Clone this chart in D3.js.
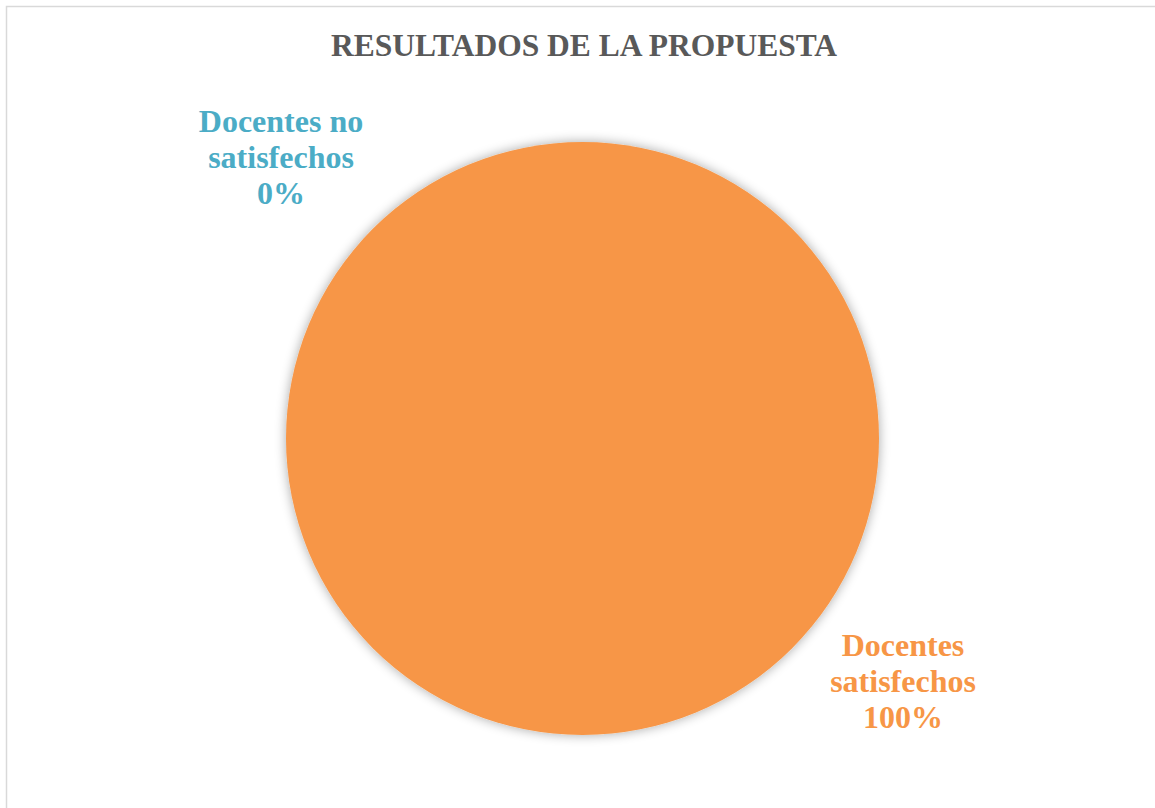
<!DOCTYPE html>
<html>
<head>
<meta charset="utf-8">
<script src="https://cdn.jsdelivr.net/npm/d3@7"></script>
<style>
  html, body { margin: 0; padding: 0; background: #fff; }
  svg { display: block; }
  .serif { font-family: "Liberation Serif", "Tinos", "Times New Roman", Times, "DejaVu Serif", serif; font-weight: bold; }
</style>
</head>
<body>
<svg id="chart"></svg>
<script>
// chart data
var title = "RESULTADOS DE LA PROPUESTA";
var categories = ["Docentes satisfechos", "Docentes no satisfechos"];
var labelLines = [["Docentes", "satisfechos"], ["Docentes no", "satisfechos"]];
var values = [100, 0];
var colors = ["#F79646", "#4BACC6"];

var width = 1155, height = 808;
var cx = 582.5, cy = 438.5, radius = 296.5;

var svg = d3.select("#chart").attr("width", width).attr("height", height);

// soft glow round the pie
var defs = svg.append("defs");
var f = defs.append("filter").attr("id", "glow")
  .attr("x", "-10%").attr("y", "-10%").attr("width", "120%").attr("height", "120%");
f.append("feGaussianBlur").attr("in", "SourceAlpha").attr("stdDeviation", 6).attr("result", "b");
f.append("feComponentTransfer").attr("in", "b").attr("result", "s")
  .append("feFuncA").attr("type", "linear").attr("slope", 0.35);
var m = f.append("feMerge");
m.append("feMergeNode").attr("in", "s");
m.append("feMergeNode").attr("in", "SourceGraphic");

// chart border
svg.append("rect")
  .attr("x", 6.5).attr("y", 6.5)
  .attr("width", 1170).attr("height", 820)
  .attr("fill", "none").attr("stroke", "#d9d9d9").attr("stroke-width", 1.5);

svg.append("text")
  .attr("class", "serif")
  .attr("x", 584).attr("y", 56)
  .attr("text-anchor", "middle")
  .attr("font-size", 31.5)
  .attr("fill", "#595959")
  .text(title);

var pie = d3.pie().sort(null).value(function (d) { return d; });
var arcs = pie(values);
var arc = d3.arc().innerRadius(0).outerRadius(radius);

var g = svg.append("g").attr("transform", "translate(" + cx + "," + cy + ")");
g.selectAll("path.slice")
  .data(arcs)
  .enter().append("path")
  .attr("class", "slice")
  .attr("d", arc)
  .attr("fill", function (d, i) { return colors[i]; })
  .attr("filter", "url(#glow)");

// data labels, placed outside the pie like Excel's best fit
var pct = d3.format(".0%");
var total = d3.sum(values);
var labelPos = [[320.5, 217.5], [-301.5, -306.5]];
var lab = g.selectAll("text.lab")
  .data(arcs)
  .enter().append("text")
  .attr("class", "lab serif")
  .attr("text-anchor", "middle")
  .attr("font-size", 32)
  .attr("fill", function (d, i) { return colors[i]; })
  .attr("transform", function (d, i) { return "translate(" + labelPos[i] + ")"; });

lab.each(function (d, i) {
  var t = d3.select(this);
  var lines = labelLines[i].concat([pct(d.value / total)]);
  lines.forEach(function (s, k) {
    t.append("tspan").attr("x", 0).attr("dy", k === 0 ? 0 : 36).text(s);
  });
});
</script>
</body>
</html>
